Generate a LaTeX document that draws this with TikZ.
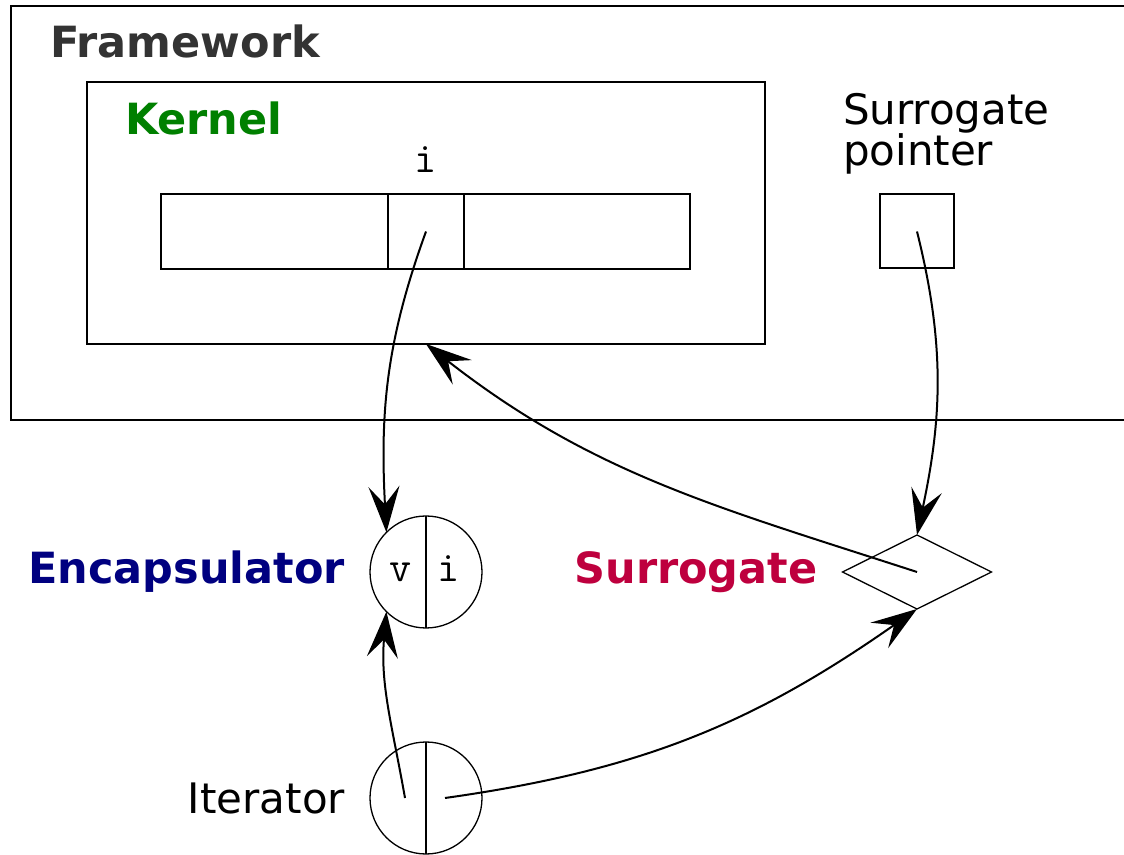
\documentclass[tikz,border=0pt]{standalone}
\usepackage{fontspec}
\setmainfont{DejaVu Sans}
\usepackage{xcolor}
\usepackage{tikz}
\usetikzlibrary{arrows.meta,positioning,shapes.geometric}

\definecolor{fwgray}{RGB}{51,51,51}
\definecolor{kerngreen}{RGB}{0,128,0}
\definecolor{encnavy}{RGB}{0,0,128}
\definecolor{surrred}{RGB}{190,0,62}

\begin{document}
\begin{tikzpicture}[
  x=1pt, y=1pt,
  every node/.style={inner sep=0pt, outer sep=0pt},
  frame/.style={rectangle, draw, line width=2pt},
  cell/.style={rectangle, draw, line width=2pt, minimum height=75pt},
  title/.style={font=\fontsize{43}{48}\selectfont\bfseries},
  plain/.style={font=\fontsize{42}{37}\selectfont, align=left},
  code/.style={font=\fontsize{43}{48}\selectfont\ttfamily},
  halves/.style={circle, draw, line width=1.3pt, minimum size=112pt},
  arrow/.style={-{Stealth[length=46pt,width=31pt,inset=18pt]}, line width=2pt}
]

\clip (0,0) rectangle (1124,854);

\node[frame, minimum width=1140pt, minimum height=414pt, anchor=north west] (framework) at (11,848) {};
\node[title, text=fwgray, anchor=base west] (fwlabel) at (50,796) {Framework};

\node[frame, minimum width=678pt, minimum height=262pt, anchor=north west] (kernel) at (87,772) {};
\node[title, text=kerngreen, anchor=base west] (kernlabel) at (125,719) {Kernel};

\node[cell, minimum width=76pt] (cellmid) at (426,622.5) {};
\node[cell, minimum width=227pt, left=0pt of cellmid] (cellleft) {};
\node[cell, minimum width=226pt, right=0pt of cellmid] (cellright) {};
\node[code, above=21pt of cellmid] (idx) {i};

\node[cell, minimum width=74pt, minimum height=74pt] (sptr) at (917,622.5) {};
\node[plain, anchor=base west] (sptrlabel) at (843,688) {Surrogate\\pointer};

\node[halves] (enc) at (426,282) {};
\draw[line width=1.8pt] (enc.north) -- (enc.south);
\node[code, anchor=base] (encv) at (401,272) {v};
\node[code, anchor=base] (enci) at (449,272) {i};
\node[title, text=encnavy, left=25pt of enc] (enclabel) {Encapsulator};

\node[diamond, draw, line width=1.3pt, minimum width=149pt, minimum height=74pt] (surr) at (917,282) {};
\node[title, text=surrred, left=25pt of surr] (surrlabel) {Surrogate};

\node[halves] (iter) at (426,56) {};
\draw[line width=1.8pt] (iter.north) -- (iter.south);
\node[plain, left=25pt of iter] (iterlabel) {Iterator};

\draw[arrow] (cellmid.center) to[out=-110, in=93] (enc.135);
\draw[arrow] (sptr.center) to[out=-76, in=78] (surr.north);
\draw[arrow] (surr.center) to[out=162, in=-38] (kernel.south);
\draw[arrow] ([xshift=-21pt]iter.center) to[out=100, in=-95] (enc.225);
\draw[arrow] ([xshift=19pt]iter.center) to[out=8, in=-145] (surr.south);

\end{tikzpicture}
\end{document}
